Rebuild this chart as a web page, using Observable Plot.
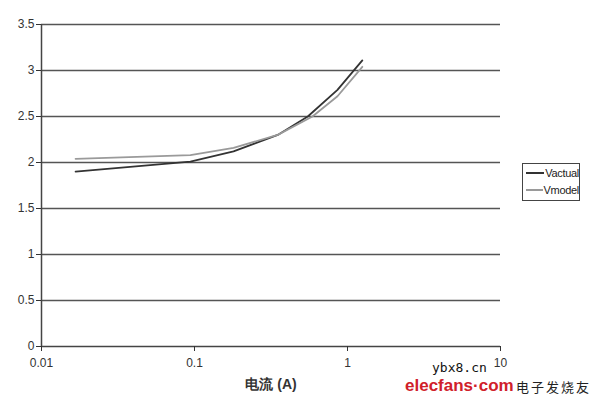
<!DOCTYPE html>
<html>
<head>
<meta charset="utf-8">
<script src="https://cdn.jsdelivr.net/npm/d3@7"></script>
<script src="https://cdn.jsdelivr.net/npm/@observablehq/plot@0.6"></script>
<style>
  body { margin: 0; background: #fff; }
  #wrap { position: relative; width: 608px; height: 403px; font-family: "Liberation Sans", Arial, sans-serif; }
  #legend { position: absolute; left: 522px; top: 163px; width: 58px; height: 38px; border: 1px solid #444; box-sizing: border-box; font-size: 11px; color: #222; letter-spacing: -0.3px; }
  #legend .row { display: flex; align-items: center; height: 17px; padding-left: 3px; }
  #legend .sw { width: 20px; height: 0; border-top: 2px solid; margin-right: 1px; }
  .wm { position: absolute; white-space: nowrap; }
</style>
</head>
<body>
<div id="wrap"></div>
<script>
const seriesNames = ["Vactual", "Vmodel"];
const seriesColors = ["#333333", "#9a9a9a"];
const currentActual = [0.0167, 0.094, 0.18, 0.35, 0.55, 0.86, 1.25];
const vActual = [1.90, 2.01, 2.12, 2.30, 2.50, 2.79, 3.11];
const currentModel = [0.0167, 0.094, 0.18, 0.35, 0.59, 0.86, 1.25];
const vModel = [2.04, 2.08, 2.16, 2.30, 2.50, 2.72, 3.04];
const xTicks = [0.01, 0.1, 1, 10];
const yTicks = [0, 0.5, 1, 1.5, 2, 2.5, 3, 3.5];
const gridLevels = [0.5, 1, 1.5, 2, 2.5, 3, 3.5];
const xLabel = "电流 (A)";

const data = [
  ...currentActual.map((c, i) => ({series: seriesNames[0], current: c, v: vActual[i]})),
  ...currentModel.map((c, i) => ({series: seriesNames[1], current: c, v: vModel[i]}))
];

const chart = Plot.plot({
  width: 608,
  height: 403,
  marginLeft: 41,
  marginRight: 108,
  marginTop: 24,
  marginBottom: 57,
  style: {fontFamily: "'Liberation Sans', Arial, sans-serif", fontSize: "12px", color: "#333", background: "#fff"},
  x: {type: "log", domain: [0.01, 10]},
  y: {domain: [0, 3.5]},
  color: {domain: seriesNames, range: seriesColors},
  marks: [
    Plot.ruleY(gridLevels, {stroke: "#555", strokeWidth: 1.3}),
    Plot.ruleY([0], {stroke: "#444", strokeWidth: 1.5}),
    Plot.ruleX([0.01], {stroke: "#444", strokeWidth: 1.5}),
    Plot.axisY({ticks: yTicks, tickSize: 5, tickPadding: 2, fontSize: 12, label: null, tickFormat: d => String(d)}),
    Plot.axisX({ticks: xTicks, tickSize: 5, tickPadding: 7, fontSize: 12, tickFormat: d => String(d),
      label: xLabel, labelAnchor: "center", labelArrow: "none", labelOffset: 42}),
    Plot.line(data, {x: "current", y: "v", z: "series", stroke: "series", strokeWidth: 1.8, curve: "linear"})
  ]
});
const wrap = document.getElementById("wrap");
wrap.appendChild(chart);
d3.select(chart).selectAll("[aria-label='x-axis label'] text").style("font-weight", "bold").style("font-size", "14px");

const legend = document.createElement("div");
legend.id = "legend";
legend.innerHTML = seriesNames.map((n, i) =>
  `<div class="row"><span class="sw" style="border-color:${seriesColors[i]}"></span>${n}</div>`).join("");
wrap.appendChild(legend);

const wm = [
  {t: "ybx8.cn", x: 432, y: 360, s: "font-family:'DejaVu Sans Mono',monospace;font-size:13px;color:#111"},
  {t: "elecfans·com", x: 405, y: 376, s: "font-size:17px;color:#d0202a;font-weight:bold"},
  {t: "电子发烧友", x: 516, y: 377, s: "font-family:'Noto Sans CJK SC';font-size:13px;color:#222;letter-spacing:2px"}
];
wm.forEach(w => {
  const d = document.createElement("div");
  d.className = "wm";
  d.style.cssText = w.s + `;left:${w.x}px;top:${w.y}px`;
  d.textContent = w.t;
  wrap.appendChild(d);
});
</script>
</body>
</html>
